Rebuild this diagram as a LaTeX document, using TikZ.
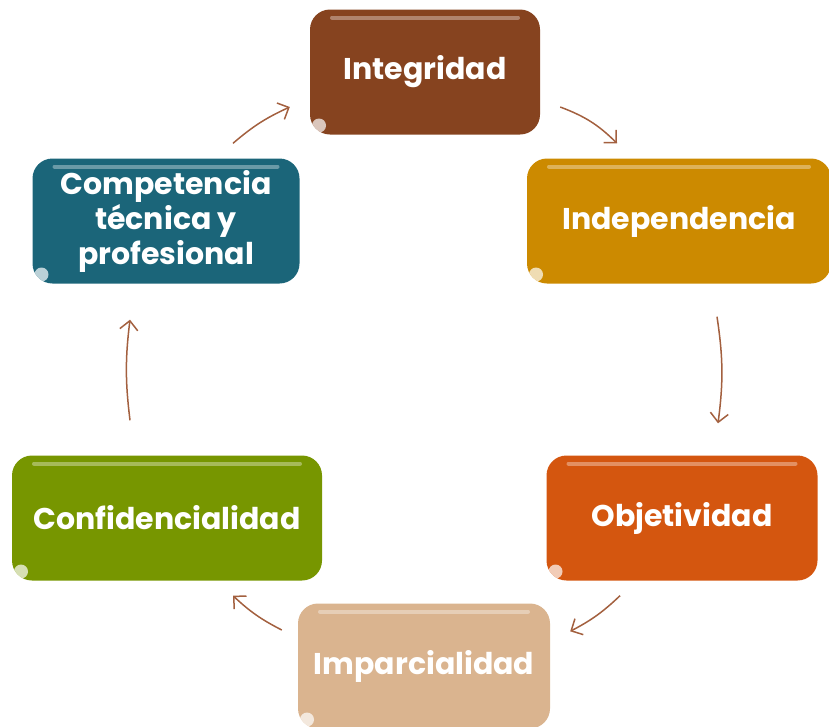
\documentclass[tikz,border=0pt]{standalone}
\usepackage{fontspec}
\setmainfont{Poppins}
\usepackage{tikz}
\usetikzlibrary{arrows.meta, calc}
\definecolor{integcol}{HTML}{86431F}
\definecolor{indepcol}{HTML}{CC8A00}
\definecolor{objetcol}{HTML}{D4560F}
\definecolor{imparcol}{HTML}{DAB48F}
\definecolor{confidcol}{HTML}{779600}
\definecolor{compecol}{HTML}{1B6579}
\definecolor{arrowcol}{HTML}{A3603F}
\tikzstyle{block} = [rectangle, rounded corners=20pt, minimum height=125pt, text centered, text=white, font=\fontsize{30}{35}\selectfont\bfseries,
    path picture={
        \draw[white, opacity=0.35, line width=4pt, line cap=round] ($(path picture bounding box.north west)+(22,8)$) -- ($(path picture bounding box.north east)+(-22,8)$);
        \fill[white, opacity=0.7] ($(path picture bounding box.south west)+(9,-9)$) circle (7);
    }]
\tikzstyle{arrow} = [line width=1.5pt, draw=arrowcol, -{Straight Barb[length=9pt, width=18pt]}]

\begin{document}
\begin{tikzpicture}[x=1pt, y=-1pt]
        \useasboundingbox (0,0) rectangle (829,726);
        \node (integ) [block, minimum width=230pt, fill=integcol] at (425,72) {Integridad};
        \node (indep) [block, minimum width=304pt, fill=indepcol] at (679,221) {Independencia};
        \node (objet) [block, minimum width=271pt, fill=objetcol] at (682,518) {Objetividad};
        \node (impar) [block, minimum width=252pt, fill=imparcol] at (424,666) {Imparcialidad};
        \node (confid) [block, minimum width=310pt, fill=confidcol] at (167,518) {Confidencialidad};
        \node (compe) [block, minimum width=267pt, fill=compecol, align=center] at (166,221) {Competencia\\técnica y\\profesional};

        \draw [arrow] ([shift={(20,35)}]integ.east) to[bend left=12] ([shift={(-62,-15)}]indep.north);
        \draw [arrow] ([shift={(38,33)}]indep.south) to[bend left=8] ([shift={(36,-32)}]objet.north);
        \draw [arrow] ([shift={(-62,15)}]objet.south) to[bend left=8] ([shift={(20,28)}]impar.north east);
        \draw [arrow] ([shift={(-16,-36)}]impar.west) to[bend left=8] ([shift={(66,15)}]confid.south);
        \draw [arrow] ([shift={(-37,-35)}]confid.north) to[bend left=7] ([shift={(-36,36)}]compe.south);
        \draw [arrow] ([shift={(67,-15)}]compe.north) to[bend left=8] ([shift={(-20,35)}]integ.west);
    \end{tikzpicture}
\end{document}
